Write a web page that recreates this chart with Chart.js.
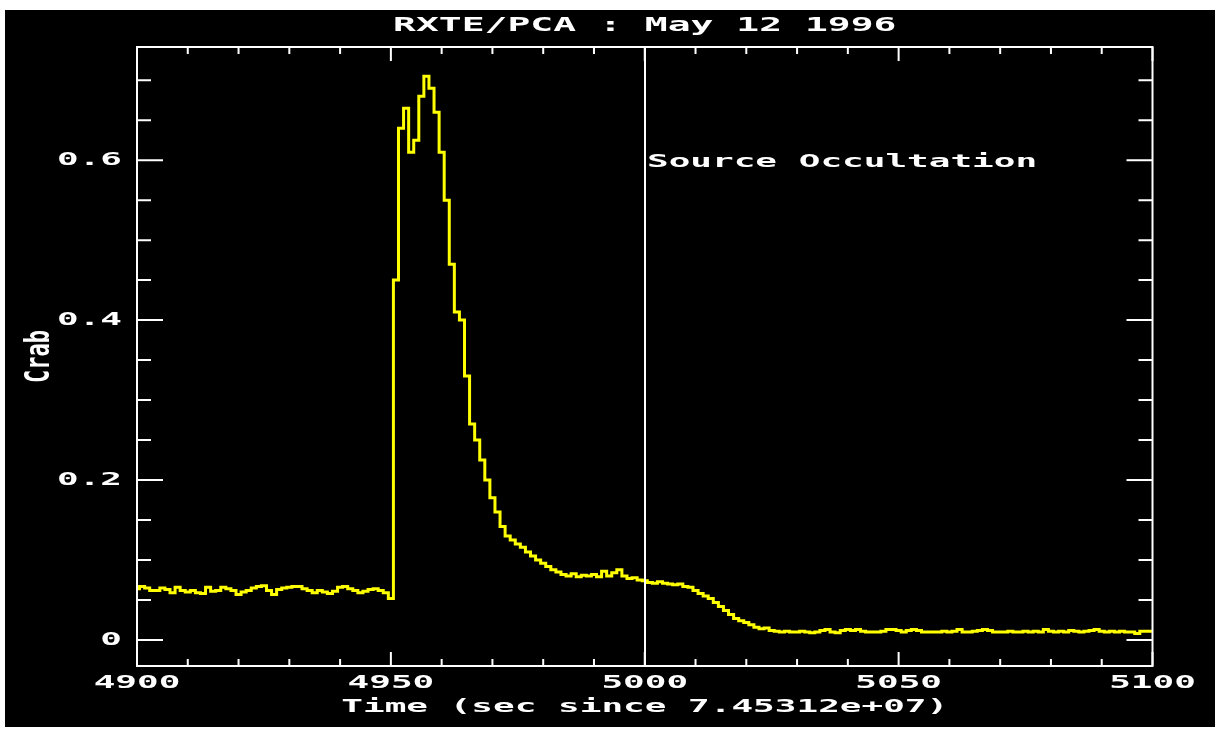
<!DOCTYPE html>
<html>
<head>
<meta charset="utf-8">
<title>RXTE/PCA : May 12 1996</title>
<script src="https://cdn.jsdelivr.net/npm/chart.js@4.4.1/dist/chart.umd.min.js"></script>
<style>
  html, body { margin: 0; padding: 0; background: #fff; }
  #plot { position: absolute; left: 5px; top: 10px; width: 1210px; height: 717px; background: #000; }
  canvas { display: block; }
</style>
</head>
<body>
<div id="plot"><canvas id="lc" width="1210" height="717"></canvas></div>
<script>
// 1 s bins, first bin at 4900 s
const T0 = 4900;

// 4900 - 4949
const RATE_PRE = [
  0.064, 0.067, 0.065, 0.062, 0.062, 0.065, 0.063, 0.059, 0.066, 0.062,
  0.060, 0.062, 0.059, 0.058, 0.066, 0.061, 0.062, 0.066, 0.064, 0.062,
  0.057, 0.060, 0.062, 0.065, 0.067, 0.068, 0.062, 0.057, 0.063, 0.065,
  0.066, 0.067, 0.067, 0.064, 0.062, 0.059, 0.062, 0.060, 0.058, 0.061,
  0.066, 0.067, 0.064, 0.062, 0.059, 0.061, 0.063, 0.064, 0.062, 0.059
];
// 4950 - 5000
const RATE_BURST = [
  0.052, 0.45, 0.64, 0.665, 0.61, 0.625, 0.68, 0.705, 0.69, 0.66,
  0.61, 0.55, 0.47, 0.41, 0.40, 0.33, 0.27, 0.25, 0.225, 0.20,
  0.178, 0.16, 0.142, 0.13, 0.125, 0.12, 0.116, 0.11, 0.105, 0.10,
  0.096, 0.092, 0.088, 0.085, 0.082, 0.080, 0.083, 0.079, 0.081, 0.080,
  0.082, 0.079, 0.086, 0.080, 0.084, 0.088, 0.080, 0.077, 0.078, 0.075,
  0.074
];
// 5001 - 5100
const RATE_POST = [
  0.072, 0.071, 0.073, 0.071, 0.070, 0.069, 0.070, 0.067, 0.066, 0.062,
  0.058, 0.055, 0.052, 0.047, 0.042, 0.037, 0.032, 0.027, 0.024, 0.022,
  0.019, 0.016, 0.014, 0.015, 0.012, 0.011, 0.010, 0.011, 0.010, 0.010,
  0.011, 0.010, 0.009, 0.010, 0.012, 0.013, 0.010, 0.009, 0.012, 0.013,
  0.012, 0.013, 0.011, 0.010, 0.010, 0.010, 0.011, 0.013, 0.013, 0.012,
  0.010, 0.012, 0.013, 0.012, 0.010, 0.010, 0.010, 0.010, 0.011, 0.010,
  0.011, 0.013, 0.010, 0.010, 0.011, 0.012, 0.013, 0.012, 0.010, 0.010,
  0.010, 0.011, 0.010, 0.010, 0.011, 0.010, 0.011, 0.010, 0.013, 0.011,
  0.010, 0.011, 0.010, 0.012, 0.011, 0.010, 0.011, 0.012, 0.013, 0.011,
  0.010, 0.011, 0.010, 0.011, 0.010, 0.010, 0.008, 0.011, 0.011, 0.011
];

const X_TICKS = [4900, 4950, 5000, 5050, 5100];
const X_MINOR = [4910, 4920, 4930, 4940, 4960, 4970, 4980, 4990,
                 5010, 5020, 5030, 5040, 5060, 5070, 5080, 5090];
const Y_TICKS = [0, 0.2, 0.4, 0.6];
const Y_TICK_LABELS = ['0', '0.2', '0.4', '0.6'];
const Y_MINOR = [0.05, 0.1, 0.15, 0.25, 0.3, 0.35, 0.45, 0.5, 0.55, 0.65, 0.7];
const OCCULT_T = 5000;
const OCCULT_LABEL = 'Source Occultation';

const FONT = { family: '"DejaVu Sans Mono"', weight: 'bold', size: 18, lineHeight: 1 };
const STRETCH = 2.0;       // the old IDL device font is very wide
const CROSS_STRETCH = 1.55; // rotated y title gets stretched across

// wrap the context so every label is drawn (and measured) wider
function stretchText(ctx) {
  const fill = ctx.fillText.bind(ctx);
  const measure = ctx.measureText.bind(ctx);
  ctx.fillText = function (text, x, y) {
    const m = ctx.getTransform();
    ctx.save();
    ctx.translate(x, y);
    if (Math.abs(m.b) > 0.5) ctx.scale(1, CROSS_STRETCH);
    else ctx.scale(STRETCH, 1);
    fill(text, 0, 0);
    ctx.restore();
  };
  ctx.measureText = function (text) {
    const r = measure(text);
    return {
      width: r.width * STRETCH,
      actualBoundingBoxAscent: r.actualBoundingBoxAscent,
      actualBoundingBoxDescent: r.actualBoundingBoxDescent
    };
  };
}

const rates = RATE_PRE.concat(RATE_BURST, RATE_POST);
const points = rates.map((r, i) => ({ x: T0 + i, y: r }));

const idlAxes = {
  id: 'idlAxes',
  afterDatasetsDraw(chart) {
    const { ctx, chartArea: a, scales: { x, y } } = chart;
    ctx.save();
    ctx.strokeStyle = '#fff';
    ctx.lineWidth = 2;

    const xo = Math.round(x.getPixelForValue(OCCULT_T));
    ctx.beginPath();
    ctx.moveTo(xo, a.top);
    ctx.lineTo(xo, a.bottom);
    ctx.stroke();

    ctx.strokeRect(a.left, a.top, a.right - a.left, a.bottom - a.top);

    // ticks point inward on all four sides
    ctx.beginPath();
    const xt = (vals, len) => vals.forEach(v => {
      const p = x.getPixelForValue(v);
      ctx.moveTo(p, a.bottom); ctx.lineTo(p, a.bottom - len);
      ctx.moveTo(p, a.top); ctx.lineTo(p, a.top + len);
    });
    const yt = (vals, len) => vals.forEach(v => {
      const p = y.getPixelForValue(v);
      ctx.moveTo(a.left, p); ctx.lineTo(a.left + len, p);
      ctx.moveTo(a.right, p); ctx.lineTo(a.right - len, p);
    });
    xt(X_TICKS, 14);
    xt(X_MINOR, 7);
    yt(Y_TICKS, 26);
    yt(Y_MINOR, 14);
    ctx.stroke();

    ctx.fillStyle = '#fff';
    ctx.font = 'bold 18px "DejaVu Sans Mono"';
    ctx.textAlign = 'left';
    ctx.textBaseline = 'middle';
    ctx.fillText(OCCULT_LABEL, xo + 2, y.getPixelForValue(0.6) + 2);
    ctx.restore();
  }
};

const canvas = document.getElementById('lc');
stretchText(canvas.getContext('2d'));

new Chart(canvas, {
  type: 'line',
  data: {
    datasets: [{
      data: points,
      borderColor: '#ffff00',
      borderWidth: 3,
      pointRadius: 0,
      stepped: 'middle',
      fill: false
    }]
  },
  options: {
    responsive: false,
    animation: false,
    layout: { padding: { top: 0, left: 0, bottom: 0, right: 62.5 } },
    plugins: {
      legend: { display: false },
      tooltip: { enabled: false },
      title: {
        display: true,
        text: 'RXTE/PCA : May 12 1996',
        fullSize: false,
        color: '#fff',
        font: { ...FONT, size: 19 },
        padding: { top: 7, bottom: 11 }
      }
    },
    scales: {
      x: {
        type: 'linear',
        min: 4900,
        max: 5100,
        grid: { display: false, drawTicks: false },
        border: { display: false },
        afterBuildTicks: s => { s.ticks = X_TICKS.map(v => ({ value: v })); },
        afterFit: s => { s.height = 61; },
        ticks: { color: '#fff', font: FONT, padding: 8.5, maxRotation: 0, autoSkip: false, callback: v => String(v) },
        title: {
          display: true,
          text: 'Time (sec since 7.45312e+07)',
          color: '#fff',
          font: FONT,
          padding: { top: 0, bottom: 11 }
        }
      },
      y: {
        type: 'linear',
        min: -0.0325,
        max: 0.7415,
        grid: { display: false, drawTicks: false },
        border: { display: false },
        afterBuildTicks: s => { s.ticks = Y_TICKS.map(v => ({ value: v })); },
        afterFit: s => { s.width = 132; },
        ticks: { color: '#fff', font: FONT, padding: 15, callback: (v, i) => Y_TICK_LABELS[i] },
        title: {
          display: true,
          text: 'Crab',
          color: '#fff',
          font: { ...FONT, size: 22 },
          padding: { top: 24, bottom: 0 }
        }
      }
    }
  },
  plugins: [idlAxes]
});
</script>
</body>
</html>
